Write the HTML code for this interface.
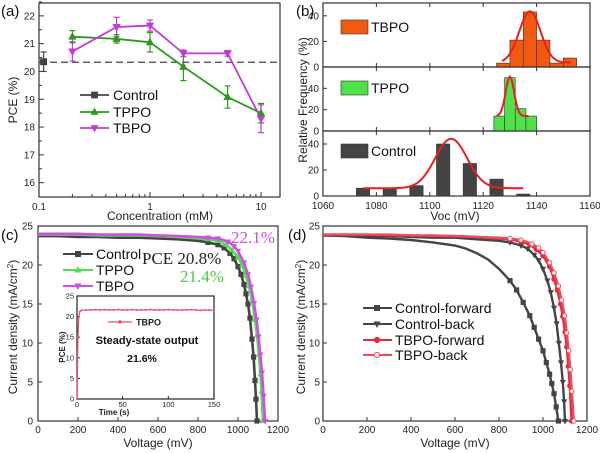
<!DOCTYPE html>
<html><head><meta charset="utf-8">
<style>
html,body{margin:0;padding:0;background:#fff;}
svg{display:block;font-family:"Liberation Sans",Arial,sans-serif;}
.tk{font-size:10px;fill:#222;}
.ax{font-size:12px;fill:#222;}
.lg{font-size:14px;fill:#111;}
</style></head>
<body>
<svg id="fig" width="600" height="453" viewBox="0 0 600 453" xmlns="http://www.w3.org/2000/svg">
<g id="pa"></g>
<g id="pb"></g>
<g id="pc"></g>
<g id="pd"></g>
</svg>
<script>
// ---- Panel (a) data ----
const concTicks = [0.1, 1, 10];
const pceTicks = [16, 17, 18, 19, 20, 21, 22];
const controlConc = [0.11];
const controlPce = [20.35];
const controlErr = [0.35];
const controlLine = 20.33;
const conc = [0.2, 0.5, 1, 2, 5, 10];
const tppoPce = [21.25, 21.17, 21.05, 20.17, 19.08, 18.5];
const tppoErr = [0.22, 0.15, 0.35, 0.5, 0.4, 0.35];
const tbpoPce = [20.72, 21.6, 21.65, 20.65, 20.65, 18.3];
const tbpoErr = [0.35, 0.35, 0.2, 0.12, 0.1, 0.5];
// ---- Panel (b) data ----
const vocTicks = [1060, 1080, 1100, 1120, 1140, 1160];
const freqTicks = [0, 20, 40];
const tbpoBinStart = [1125, 1130, 1135, 1140, 1145, 1150];
const tbpoFreq = [3, 21, 43, 21, 3, 7];
const tppoBinStart = [1124, 1128, 1132, 1136];
const tppoFreq = [14, 50, 21, 14];
const ctrlBinStart = [1072.5, 1082.5, 1092.5, 1102.5, 1112.5, 1122.5, 1132.5];
const ctrlFreq = [6, 6, 8, 40, 25, 13, 1.5];
const tbpoFit = [1127, 1137.5, 4, 40, 3.5, 1153]; // start, mu, sigma, amp, base, end
const tppoFit = [1125, 1130, 1.6, 37, 14, 1137];
const ctrlFit = [1075, 1108, 6, 38, 6, 1135];
// ---- Panel (c) data ----
const vTicks = [0, 200, 400, 600, 800, 1000, 1200];
const jTicks = [0, 5, 10, 15, 20, 25];
const ctrlV = [0,100,200,300,400,500,600,700,800,850,900,930,960,980,1000,1015,1030,1040,1050,1060,1070,1078,1085,1090,1095];
const ctrlJ = [23.7,23.7,23.6,23.6,23.5,23.5,23.4,23.3,23.1,22.9,22.6,22.2,21.5,20.8,19.8,18.8,17.5,16.3,15,13.2,10.5,8.2,5.2,2.8,0];
const tppoV = [0,100,200,300,400,500,600,700,800,850,900,940,970,1000,1020,1040,1055,1070,1085,1095,1105,1112,1118,1125];
const tppoJ = [23.9,23.9,23.9,23.8,23.8,23.8,23.7,23.6,23.4,23.3,23.1,22.6,21.9,21,20,18.6,17.3,15.5,13,11,8.5,6,3.8,0];
const tbpoV = [0,100,200,300,400,500,600,700,800,850,900,950,980,1000,1030,1050,1065,1080,1093,1103,1112,1120,1128,1135];
const tbpoJ = [24,24,24,23.9,23.9,23.9,23.8,23.7,23.6,23.5,23.4,23,22.4,21.8,20.3,18.8,17.2,15.1,13,10.8,8.5,6.2,3.2,0];
// inset
const tTicks = [0, 50, 100, 150];
const insetPceTicks = [0, 5, 10, 15, 20, 25];
const ssTime = [0,1,2,3,5,10,15,20,25,30,35,40,45,50,55,60,65,70,75,80,85,90,95,100,105,110,115,120,125,130,135,140,145,150];
const ssPce = [0,15,20,21.2,21.5,21.6,21.6,21.7,21.6,21.7,21.6,21.6,21.7,21.6,21.6,21.7,21.6,21.6,21.6,21.7,21.6,21.6,21.6,21.7,21.6,21.6,21.6,21.6,21.7,21.6,21.5,21.6,21.6,21.5];
// ---- Panel (d) data ----
const cfV = [0,100,200,300,400,500,600,650,700,750,800,850,880,910,940,960,980,1000,1015,1030,1040,1050,1060,1070];
const cfJ = [23.8,23.7,23.5,23.4,23.2,22.9,22.5,22.1,21.5,20.7,19.5,18,16.8,15.2,13.5,12,10.5,9,7.5,6,4.8,3.5,1.8,0];
const cbV = [0,100,200,300,400,500,600,700,800,850,900,930,960,980,1000,1020,1035,1050,1062,1072,1082,1090,1096,1100];
const cbJ = [23.8,23.8,23.7,23.7,23.6,23.5,23.5,23.3,23.1,22.9,22.5,22.1,21.3,20.6,19.5,18,16.5,14.5,12.5,10,7.5,5,2.5,0];
const tfV = [0,100,200,300,400,500,600,700,800,850,900,940,970,1000,1030,1050,1065,1080,1090,1100,1108,1115,1122,1130];
const tfJ = [23.9,23.9,23.9,23.8,23.8,23.7,23.7,23.6,23.4,23.3,23,22.6,22,21.2,19.8,18.2,16.8,15,13.4,11.4,9.5,7,4.5,0];
const tbV = [0,100,200,300,400,500,600,700,800,850,900,950,980,1000,1030,1050,1070,1085,1098,1108,1117,1124,1131,1140];
const tbJ = [23.9,23.9,23.9,23.9,23.8,23.8,23.7,23.6,23.5,23.4,23.2,22.7,22.2,21.6,20.3,19,17.3,15.5,13.5,11.3,9,6.6,3.8,0];

const NS = "http://www.w3.org/2000/svg";
function mk(parent, tag, attrs, text){
  const e = document.createElementNS(NS, tag);
  for (const k in attrs) e.setAttribute(k, attrs[k]);
  if (text !== undefined) e.textContent = text;
  parent.appendChild(e);
  return e;
}
function marker(g, type, x, y, s, fill, stroke){
  let e;
  if (type === 'sq') e = mk(g,'rect',{x:x-s,y:y-s,width:2*s,height:2*s,fill:fill,stroke:stroke,'stroke-width':0.8});
  else if (type === 'up') e = mk(g,'polygon',{points:`${x},${y-s*1.2} ${x-s*1.1},${y+s*0.8} ${x+s*1.1},${y+s*0.8}`,fill:fill,stroke:stroke,'stroke-width':0.8});
  else if (type === 'dn') e = mk(g,'polygon',{points:`${x},${y+s*1.2} ${x-s*1.1},${y-s*0.8} ${x+s*1.1},${y-s*0.8}`,fill:fill,stroke:stroke,'stroke-width':0.8});
  else if (type === 'ci') e = mk(g,'circle',{cx:x,cy:y,r:s,fill:fill,stroke:stroke,'stroke-width':1});
  else if (type === 'st') e = mk(g,'circle',{cx:x,cy:y,r:s,fill:fill,stroke:'none'});
  
  
  return e;
}
function box(g,x0,y0,x1,y1){
  const r = mk(g,'rect',{x:x0,y:y0,width:x1-x0,height:y1-y0,fill:'none',stroke:'#333','stroke-width':1.2});
  
  
}
function txt(g,x,y,s,cls,anchor,extra){
  const a = Object.assign({x:x,y:y,class:cls,'text-anchor':anchor||'start'}, extra||{});
  return mk(g,'text',a,s);
}
function polyline(g,xs,ys,fx,fy,color,w,dash){
  const pts = xs.map((v,i)=>fx(v).toFixed(1)+','+fy(ys[i]).toFixed(1)).join(' ');
  const a = {points:pts,fill:'none',stroke:color,'stroke-width':w};
  if (dash) a['stroke-dasharray']=dash;
  const p = mk(g,'polyline',a);
  
  
  return p;
}

// ================= Panel A =================
(function(){
  const g = document.getElementById('pa');
  const X0=39,X1=280,Y0=3,Y1=197;
  const sx = v => 39 + (Math.log10(v)+1)*111;
  const sy = v => 196 - (v-15.52)*27.8;
  box(g,X0,Y0,X1,Y1);
  concTicks.forEach(v=>{
    mk(g,'line',{x1:sx(v),y1:Y1,x2:sx(v),y2:Y1-5,stroke:'#333'});
    const t = txt(g,sx(v),210,String(v),'tk','middle');
    
    
  });
  [0.2,0.3,0.4,0.5,0.6,0.7,0.8,0.9,2,3,4,5,6,7,8,9].forEach(v=>{
    mk(g,'line',{x1:sx(v),y1:Y1,x2:sx(v),y2:Y1-3,stroke:'#333'});
  });
  pceTicks.forEach(v=>{
    mk(g,'line',{x1:X0,y1:sy(v),x2:X0+5,y2:sy(v),stroke:'#333'});
    mk(g,'line',{x1:X0,y1:sy(v+0.5),x2:X0+3,y2:sy(v+0.5),stroke:'#333'});
    const t = txt(g,X0-4,sy(v)+3.5,String(v),'tk','end');
    
    
  });
  const xt = txt(g,160,220,'Concentration (mM)','ax','middle');
  
  
  const yt = txt(g,0,0,'PCE (%)','ax','middle',{transform:'translate(17,100) rotate(-90)'});
  
  
  const pl = txt(g,1,16,'(a)','lg','start',{style:'font-size:15px'});
  
  
  const dl = mk(g,'line',{x1:X0,y1:sy(controlLine),x2:X1,y2:sy(controlLine),stroke:'#444','stroke-width':1.3,'stroke-dasharray':'7,4'});
  
  
  function errs(xs,ys,es,color){
    xs.forEach((v,i)=>{
      const x=sx(v);
      mk(g,'line',{x1:x,y1:sy(ys[i]-es[i]),x2:x,y2:sy(ys[i]+es[i]),stroke:color,'stroke-width':1.2});
      mk(g,'line',{x1:x-3,y1:sy(ys[i]-es[i]),x2:x+3,y2:sy(ys[i]-es[i]),stroke:color,'stroke-width':1.2});
      mk(g,'line',{x1:x-3,y1:sy(ys[i]+es[i]),x2:x+3,y2:sy(ys[i]+es[i]),stroke:color,'stroke-width':1.2});
    });
  }
  errs(controlConc,controlPce,controlErr,'#444');
  errs(conc,tppoPce,tppoErr,'#2a9a1a');
  errs(conc,tbpoPce,tbpoErr,'#c23ad6');
  polyline(g,conc,tppoPce,sx,sy,'#2a9a1a',1.8);
  polyline(g,conc,tbpoPce,sx,sy,'#c23ad6',1.8);
  controlConc.forEach((v,i)=>marker(g,'sq',sx(v),sy(controlPce[i]),3,'#444','#333'));
  conc.forEach((v,i)=>marker(g,'up',sx(v),sy(tppoPce[i]),3.2,'#2a9a1a','#2a9a1a'));
  conc.forEach((v,i)=>marker(g,'dn',sx(v),sy(tbpoPce[i]),3.2,'#c23ad6','#c23ad6'));
  const lg = mk(g,'g',{});
  
  
  [['Control','#444','sq',95],['TPPO','#2a9a1a','up',112],['TBPO','#c23ad6','dn',128]].forEach(e=>{
    mk(lg,'line',{x1:80,y1:e[3],x2:109,y2:e[3],stroke:e[1],'stroke-width':1.8});
    marker(lg,e[2],94.5,e[3],3,e[1],e[1]);
    const t = txt(lg,113,e[3]+5,e[0],'lg');
    
    
  });
})();

// ================= Panel B =================
(function(){
  const g = document.getElementById('pb');
  const X0=323,X1=590;
  const sx = v => 323 + (v-1060)*2.67;
  const subs = [
    {top:3,bot:67,max:50,bins:tbpoBinStart,f:tbpoFreq,w:5,col:'#f25a12',fit:tbpoFit,name:'TBPO',ly:20},
    {top:67,bot:131,max:60,bins:tppoBinStart,f:tppoFreq,w:4,col:'#4fe04a',fit:tppoFit,name:'TPPO',ly:81},
    {top:131,bot:196,max:50,bins:ctrlBinStart,f:ctrlFreq,w:5,col:'#444',fit:ctrlFit,name:'Control',ly:144}
  ];
  subs.forEach(s=>{
    const sy = v => s.bot - v*(s.bot-s.top)/s.max;
    box(g,X0,s.top,X1,s.bot);
    freqTicks.forEach(v=>{
      mk(g,'line',{x1:X0,y1:sy(v),x2:X0+4,y2:sy(v),stroke:'#333'});
      const t = txt(g,X0-4,sy(v)+3.5,String(v),'tk','end');
      
      
    });
    vocTicks.forEach(v=>{
      mk(g,'line',{x1:sx(v),y1:s.bot,x2:sx(v),y2:s.bot-4,stroke:'#333'});
      mk(g,'line',{x1:sx(v),y1:s.top,x2:sx(v),y2:s.top+4,stroke:'#333'});
    });
    s.bins.forEach((b,i)=>{
      const r = mk(g,'rect',{x:sx(b),y:sy(s.f[i]),width:s.w*2.67,height:s.bot-sy(s.f[i]),fill:s.col,stroke:'#333','stroke-width':0.6});
      
      
    });
    const fx=[],fy=[];
    for(let v=s.fit[0]; v<=s.fit[5]+0.01; v+=0.5){
      fx.push(v); fy.push(s.fit[4]+s.fit[3]*Math.exp(-Math.pow(v-s.fit[1],2)/(2*s.fit[2]*s.fit[2])));
    }
    const fl = polyline(g,fx,fy,sx,sy,'#ee1c1c',2);
    
    const lr = mk(g,'rect',{x:341,y:s.ly,width:27,height:14,fill:s.col,stroke:'#333','stroke-width':0.6});
    
    
    const lt = txt(g,371,s.ly+12,s.name,'lg');
    
    
  });
  vocTicks.forEach(v=>{
    const t = txt(g,sx(v),209,String(v),'tk','middle');
    
    
  });
  const xt = txt(g,455,220,'Voc (mV)','ax','middle');
  
  
  const yt = txt(g,0,0,'Relative Frequency (%)','ax','middle',{transform:'translate(307,100) rotate(-90)'});
  
  
  const pl = txt(g,296,16,'(b)','lg','start',{style:'font-size:15px'});
  
  
})();

// ================= Panel C =================
(function(){
  const g = document.getElementById('pc');
  const X0=38,X1=278,Y0=226,Y1=421;
  const sx = v => 38 + v*0.2;
  const sy = v => 421 - v*7.8;
  box(g,X0,Y0,X1,Y1);
  vTicks.forEach(v=>{
    mk(g,'line',{x1:sx(v),y1:Y1,x2:sx(v),y2:Y1-4,stroke:'#333'});
    const t = txt(g,sx(v),433,String(v),'tk','middle');
    
    
  });
  jTicks.forEach(v=>{
    mk(g,'line',{x1:X0,y1:sy(v),x2:X0+4,y2:sy(v),stroke:'#333'});
    const t = txt(g,X0-5,sy(v)+3.5,String(v),'tk','end');
    
    
  });
  const xt = txt(g,158,447,'Voltage (mV)','ax','middle');
  
  
  const yt = mk(g,'text',{class:'ax','text-anchor':'middle',transform:'translate(17,327) rotate(-90)'});
  yt.innerHTML = 'Current density (mA/cm<tspan dy="-4" style="font-size:8px">2</tspan><tspan dy="4">)</tspan>';
  
  
  const pl = txt(g,1,240,'(c)','lg','start',{style:'font-size:15px'});
  
  
  const series = [[ctrlV,ctrlJ,'#444','sq'],[tppoV,tppoJ,'#4ee04a','up'],[tbpoV,tbpoJ,'#d24ce6','dn']];
  series.forEach(s=>{
    polyline(g,s[0],s[1],sx,sy,s[2],2.6);
    s[0].forEach((v,i)=>{ if(v>=850) marker(g,s[3],sx(v),sy(s[1][i]),2.2,s[2],s[2]); });
  });
  [['22.1%','#d24ce6',231,243],['PCE 20.8%','#222',142,264],['21.4%','#4ec94a',180,282]].forEach(e=>{
    const t = txt(g,e[2],e[3],e[0],'lg','start',{style:'font-family:"Liberation Serif",serif;font-size:17px;fill:'+e[1]});
    
    
  });
  const lg = mk(g,'g',{});
  
  
  [['Control','#444','sq',254],['TPPO','#4ee04a','up',270],['TBPO','#d24ce6','dn',286]].forEach(e=>{
    mk(lg,'line',{x1:63,y1:e[3],x2:93,y2:e[3],stroke:e[1],'stroke-width':2});
    marker(lg,e[2],78,e[3],2.6,e[1],e[1]);
    const t = txt(lg,96,e[3]+5,e[0],'lg');
    
    
  });
  const ig = mk(g,'g',{});
  
  
  const IX0=77,IX1=214,IY0=296,IY1=399;
  const isx = t => 77 + t*(137/150);
  const isy = v => 399 - v*(103/25);
  mk(ig,'rect',{x:IX0,y:IY0,width:IX1-IX0,height:IY1-IY0,fill:'#fff',stroke:'#222','stroke-width':1.2});
  tTicks.forEach(v=>{
    mk(ig,'line',{x1:isx(v),y1:IY1,x2:isx(v),y2:IY1-3,stroke:'#222'});
    const t = txt(ig,isx(v),407,String(v),'tk','middle',{style:'font-size:7.5px'});
    
    
  });
  insetPceTicks.forEach(v=>{
    mk(ig,'line',{x1:IX0,y1:isy(v),x2:IX0+3,y2:isy(v),stroke:'#222'});
    const t = txt(ig,IX0-3,isy(v)+2.5,String(v),'tk','end',{style:'font-size:7.5px'});
    
    
  });
  const ix = txt(ig,114,415,'Time (s)','tk','middle',{style:'font-size:8px;font-weight:bold'});
  
  
  const iy = txt(ig,0,0,'PCE (%)','tk','middle',{style:'font-size:8px;font-weight:bold',transform:'translate(65,347) rotate(-90)'});
  
  
  polyline(ig,ssTime,ssPce,isx,isy,'#e5506a',1.3);
  ssTime.forEach((v,i)=>marker(ig,'st',isx(v),isy(ssPce[i]),1,'#e5506a'));
  mk(ig,'line',{x1:108,y1:322,x2:132,y2:322,stroke:'#e5506a','stroke-width':1.3});
  marker(ig,'st',120,322,1.8,'#e5506a');
  const il = txt(ig,136,325.5,'TBPO','tk','start',{style:'font-size:9px;font-weight:bold'});
  
  
  const s1 = txt(ig,147,344,'Steady-state output','tk','middle',{style:'font-size:11px;font-weight:bold;fill:#111'});
  
  
  const s2 = txt(ig,142,362,'21.6%','tk','middle',{style:'font-size:10.5px;font-weight:bold;fill:#111'});
  
  
})();

// ================= Panel D =================
(function(){
  const g = document.getElementById('pd');
  const X0=323,X1=587,Y0=226,Y1=421;
  const sx = v => 323 + v*0.22;
  const sy = v => 421 - v*7.8;
  box(g,X0,Y0,X1,Y1);
  vTicks.forEach(v=>{
    mk(g,'line',{x1:sx(v),y1:Y1,x2:sx(v),y2:Y1-4,stroke:'#333'});
    const t = txt(g,sx(v),433,String(v),'tk','middle');
    
    
  });
  jTicks.forEach(v=>{
    mk(g,'line',{x1:X0,y1:sy(v),x2:X0+4,y2:sy(v),stroke:'#333'});
    const t = txt(g,X0-3,sy(v)+3.5,String(v),'tk','end');
    
    
  });
  const xt = txt(g,455,447,'Voltage (mV)','ax','middle');
  
  
  const yt = mk(g,'text',{class:'ax','text-anchor':'middle',transform:'translate(305,327) rotate(-90)'});
  yt.innerHTML = 'Current density (mA/cm<tspan dy="-4" style="font-size:8px">2</tspan><tspan dy="4">)</tspan>';
  
  
  const pl = txt(g,288,240,'(d)','lg','start',{style:'font-size:15px'});
  
  
  const series = [[cfV,cfJ,'#444','sq','#444'],[cbV,cbJ,'#444','dn','#444'],[tfV,tfJ,'#e8283c','ci','#e8283c'],[tbV,tbJ,'#ee4a5a','ci','#fff']];
  series.forEach(s=>{
    polyline(g,s[0],s[1],sx,sy,s[2],2.4);
    s[0].forEach((v,i)=>{ if(v>=850) marker(g,s[3],sx(v),sy(s[1][i]),2.2,s[4],s[2]); });
  });
  const lg = mk(g,'g',{});
  
  
  [['Control-forward','#444','sq','#444',308],['Control-back','#444','dn','#444',324],['TBPO-forward','#e8283c','ci','#e8283c',340],['TBPO-back','#ee4a5a','ci','#fff',355]].forEach(e=>{
    mk(lg,'line',{x1:363,y1:e[4],x2:392,y2:e[4],stroke:e[1],'stroke-width':2});
    marker(lg,e[2],377,e[4],2.6,e[3],e[1]);
    const t = txt(lg,395,e[4]+5,e[0],'lg');
    
    
  });
})();
</script>
</body></html>
